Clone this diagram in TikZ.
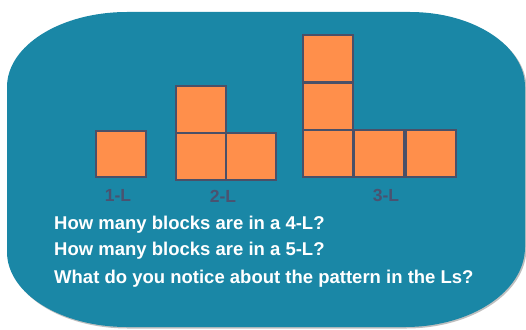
\documentclass[tikz,border=0pt]{standalone}
\usepackage{fontspec}
\setmainfont{Liberation Sans}
\definecolor{tealbg}{HTML}{1A87A6}
\definecolor{blockfill}{HTML}{FF8F4B}
\definecolor{blockline}{HTML}{4A5068}
\definecolor{labelcol}{HTML}{4A5270}
\tikzset{
  block/.style={draw=blockline, fill=blockfill, line width=2pt, minimum width=50pt, minimum height=47pt, inner sep=0pt},
  llabel/.style={text=labelcol, font=\fontsize{17.5}{20}\selectfont\bfseries, inner sep=0pt},
  question/.style={text=white, font=\fontsize{18.5}{22}\selectfont\bfseries, anchor=base west, inner sep=0pt}
}
\begin{document}
\begin{tikzpicture}[x=1pt,y=-1pt]
\useasboundingbox (0,0) rectangle (526,329);
% background shape
\fill[black, opacity=0.25] (128,13.5) -- (411,13.5)
  .. controls (474.5,13.5) and (526.5,47) .. (526.5,88)
  -- (526.5,248)
  .. controls (526.5,292.5) and (472.5,328.5) .. (406,328.5)
  -- (128,328.5)
  .. controls (61.5,328.5) and (8.5,295) .. (8.5,253)
  -- (8.5,88) .. controls (8.5,47) and (61.5,13.5) .. (128,13.5) -- cycle;
\fill[tealbg] (127,12) -- (410,12)
  .. controls (473.5,12) and (525,45.6) .. (525,87)
  -- (525,247)
  .. controls (525,291.2) and (471.3,327) .. (405,327)
  -- (127,327)
  .. controls (60.7,327) and (7,293.4) .. (7,252)
  -- (7,87) .. controls (7,45.6) and (60.7,12) .. (127,12) -- cycle;
% 1-L
\node[block, minimum height=46pt] (a1) at (121,154) {};
% 2-L
\node[block] (b1) at (200.5,156.5) {};
\node[block] (b2) at (250.5,156.5) {};
\node[block] (b3) at (200.5,109) {};
% 3-L
\node[block] (c1) at (327.7,153.4) {};
\node[block] (c2) at (378.5,153.4) {};
\node[block] (c3) at (430.5,153.4) {};
\node[block] (c4) at (327.7,106) {};
\node[block] (c5) at (327.7,58.8) {};
% labels
\node[llabel] (l1) at (118,195.5) {1-L};
\node[llabel] (l2) at (223,196) {2-L};
\node[llabel] (l3) at (386,195) {3-L};
% questions
\node[question] (q1) at (54,229) {How many blocks are in a 4-L?};
\node[question] (q2) at (54,255) {How many blocks are in a 5-L?};
\node[question] (q3) at (54,283) {What do you notice about the pattern in the Ls?};
\end{tikzpicture}
\end{document}
